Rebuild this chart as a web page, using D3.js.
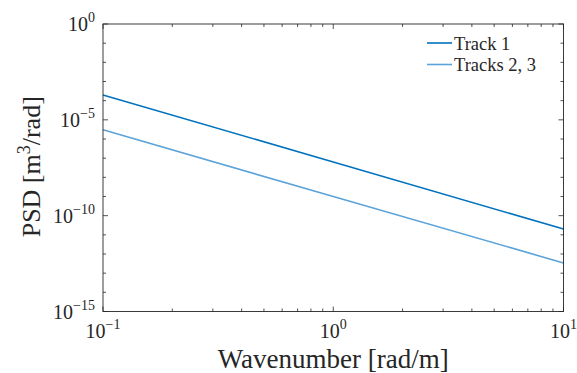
<!DOCTYPE html>
<html>
<head>
<meta charset="utf-8">
<script src="https://cdn.jsdelivr.net/npm/d3@7"></script>
<style>
  body { margin: 0; background: #fff; }
  svg text { font-family: "Liberation Serif", "DejaVu Serif", serif; fill: #262626; }
</style>
</head>
<body>
<svg id="chart" width="577" height="373"></svg>
<script>
    // Data (log-log straight lines)
    const wavenumber = [0.1, 1, 10];
    const track1 = [2.0e-4, 6.3e-8, 2.0e-11];
    const tracks23 = [3.0e-6, 1.0e-9, 3.4e-13];

    const seriesNames = ["Track 1", "Tracks 2, 3"];
    const seriesColors = ["#0072bd", "#5ba3d9"];

    const xTicks = [0.1, 1, 10];
    const xTickExp = ["\u22121", "0", "1"];
    const yTicks = [1e0, 1e-5, 1e-10, 1e-15];
    const yTickExp = ["0", "\u22125", "\u221210", "\u221215"];

    // Plot box
    const boxLeft = 103, boxTop = 24, boxRight = 563.5, boxBottom = 311.5;
    const ink = "#262626";
    const serif = "'Liberation Serif', 'DejaVu Serif', serif";

    const svg = d3.select("#chart")
        .attr("font-family", serif);

    const x = d3.scaleLog().domain([0.1, 10]).range([boxLeft, boxRight]);
    const y = d3.scaleLog().domain([1e-15, 1e0]).range([boxBottom, boxTop]);

    // minor ticks
    const xMinor = [];
    for (let p = -1; p < 1; p++) {
        for (let m = 2; m <= 9; m++) xMinor.push(m * Math.pow(10, p));
    }
    const yMinor = d3.range(-15, 1).map(p => Math.pow(10, p)).filter(v => !yTicks.includes(v));

    const ticks = svg.append("g")
        .attr("stroke", ink)
        .attr("stroke-width", 0.8);

    // x ticks on bottom and top, pointing inward
    xTicks.forEach(v => {
        ticks.append("line").attr("x1", x(v)).attr("x2", x(v)).attr("y1", boxBottom).attr("y2", boxBottom - 5);
        ticks.append("line").attr("x1", x(v)).attr("x2", x(v)).attr("y1", boxTop).attr("y2", boxTop + 5);
    });
    xMinor.forEach(v => {
        ticks.append("line").attr("x1", x(v)).attr("x2", x(v)).attr("y1", boxBottom).attr("y2", boxBottom - 3);
        ticks.append("line").attr("x1", x(v)).attr("x2", x(v)).attr("y1", boxTop).attr("y2", boxTop + 3);
    });
    // y ticks on left and right
    yTicks.forEach(v => {
        ticks.append("line").attr("y1", y(v)).attr("y2", y(v)).attr("x1", boxLeft).attr("x2", boxLeft + 5);
        ticks.append("line").attr("y1", y(v)).attr("y2", y(v)).attr("x1", boxRight).attr("x2", boxRight - 5);
    });
    yMinor.forEach(v => {
        ticks.append("line").attr("y1", y(v)).attr("y2", y(v)).attr("x1", boxLeft).attr("x2", boxLeft + 3);
        ticks.append("line").attr("y1", y(v)).attr("y2", y(v)).attr("x1", boxRight).attr("x2", boxRight - 3);
    });

    // Lines
    const line = d3.line()
        .x((d, i) => x(wavenumber[i]))
        .y(d => y(d));

    [track1, tracks23].forEach((s, i) => {
        svg.append("path")
            .datum(s)
            .attr("fill", "none")
            .attr("stroke", seriesColors[i])
            .attr("stroke-width", 1.6)
            .attr("d", line);
    });

    // Box
    svg.append("rect")
        .attr("x", boxLeft).attr("y", boxTop)
        .attr("width", boxRight - boxLeft).attr("height", boxBottom - boxTop)
        .attr("fill", "none")
        .attr("stroke", ink)
        .attr("stroke-width", 0.9);

    // Tick labels with superscript exponents
    function powerLabel(g, exp) {
        g.append("tspan").attr("font-size", 20).text("10");
        g.append("tspan").attr("font-size", 14).attr("dy", -9).text(exp);
    }

    xTicks.forEach((v, i) => {
        const t = svg.append("text")
            .attr("x", x(v))
            .attr("y", 338)
            .attr("text-anchor", "middle");
        powerLabel(t, xTickExp[i]);
    });

    yTicks.forEach((v, i) => {
        const t = svg.append("text")
            .attr("x", 95)
            .attr("y", y(v) + 7)
            .attr("text-anchor", "end");
        powerLabel(t, yTickExp[i]);
    });

    // Axis labels
    svg.append("text")
        .attr("x", (boxLeft + boxRight) / 2)
        .attr("y", 368)
        .attr("text-anchor", "middle")
        .attr("font-size", 27)
        .text("Wavenumber [rad/m]");

    const yl = svg.append("text")
        .attr("transform", `translate(40,${(boxTop + boxBottom) / 2 - 1}) rotate(-90)`)
        .attr("text-anchor", "middle")
        .attr("font-size", 26);
    yl.append("tspan").text("PSD [m");
    yl.append("tspan").attr("font-size", 18).attr("dy", -10).text("3");
    yl.append("tspan").attr("dy", 10).text("/rad]");

    // Legend
    const legend = svg.append("g");
    seriesNames.forEach((name, i) => {
        const ly = 43 + i * 21.5;
        legend.append("line")
            .attr("x1", 427).attr("x2", 452)
            .attr("y1", ly).attr("y2", ly)
            .attr("stroke", seriesColors[i])
            .attr("stroke-width", 1.6);
        legend.append("text")
            .attr("x", 454)
            .attr("y", ly + 6.5)
            .attr("font-size", 18.5)
            .text(name);
    });
</script>
</body>
</html>
